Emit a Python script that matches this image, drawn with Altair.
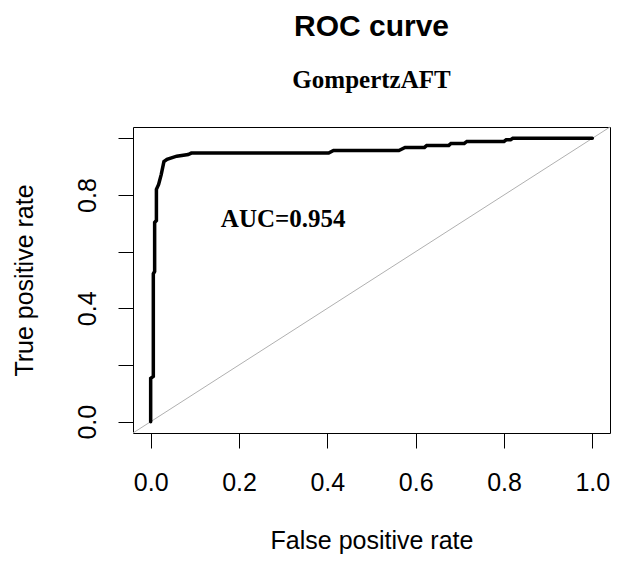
import altair as alt
import pandas as pd

# ROC curve points
fpr = [0.0, 0.0, 0.006, 0.006, 0.009, 0.009, 0.013, 0.013, 0.018, 0.024, 0.030,
       0.037, 0.059, 0.085, 0.092, 0.403, 0.414, 0.562, 0.576, 0.620, 0.625,
       0.675, 0.680, 0.710, 0.716, 0.800, 0.805, 0.815, 0.820, 1.0]
tpr = [0.0, 0.153, 0.160, 0.522, 0.530, 0.703, 0.710, 0.820, 0.837, 0.873, 0.918,
       0.926, 0.937, 0.943, 0.948, 0.948, 0.957, 0.957, 0.968, 0.968, 0.975,
       0.975, 0.982, 0.982, 0.989, 0.989, 0.995, 0.995, 1.0, 1.0]

# reference diagonal (abline 0,1) across the plot region
diag = [-0.04, 1.04]

# annotation
auc_x = [0.3]
auc_y = [0.7]
auc_label = ["AUC=0.954"]

x_ticks = [0.0, 0.2, 0.4, 0.6, 0.8, 1.0]
y_ticks = [0.0, 0.2, 0.4, 0.6, 0.8, 1.0]

curve_df = pd.DataFrame({"fpr": fpr, "tpr": tpr, "order": list(range(len(fpr)))})
diag_df = pd.DataFrame({"fpr": diag, "tpr": diag})
auc_df = pd.DataFrame({"fpr": auc_x, "tpr": auc_y, "label": auc_label})

SANS = "Liberation Sans"
SERIF = "Liberation Serif"

VIEW_W = 477
VIEW_H = 306

x_scale = alt.Scale(domain=[-0.04, 1.04], nice=False, zero=False)
y_scale = alt.Scale(domain=[-0.04, 1.04], nice=False, zero=False)

x_axis = alt.Axis(
    values=x_ticks, format=".1f", title="False positive rate",
    domain=False, grid=False, tickSize=15, tickColor="black", tickWidth=1,
    labelFont=SANS, labelFontSize=25, labelColor="black", labelPadding=42,
    labelBaseline="alphabetic", labelFlush=False, labelOverlap=False,
    titleFont=SANS, titleFontSize=25, titleFontWeight="normal", titleColor="black",
    titleBaseline="alphabetic", titleY=115, titleX=VIEW_W / 2, titleAlign="center",
)
y_axis = alt.Axis(
    values=y_ticks, title="True positive rate",
    labelExpr="(datum.index == 0 || abs(datum.value - 0.4) < 0.001 || abs(datum.value - 0.8) < 0.001) ? format(datum.value, '.1f') : ''",
    domain=False, grid=False, tickSize=15, tickColor="black", tickWidth=1,
    labelFont=SANS, labelFontSize=25, labelColor="black", labelPadding=23,
    labelAngle=270, labelAlign="center", labelBaseline="alphabetic",
    labelFlush=False, labelOverlap=False,
    titleFont=SANS, titleFontSize=25, titleFontWeight="normal", titleColor="black",
    titleAngle=270, titleAlign="center", titleBaseline="alphabetic",
    titleX=-101, titleY=VIEW_H / 2,
)

x_enc = alt.X("fpr:Q", scale=x_scale, axis=x_axis)
y_enc = alt.Y("tpr:Q", scale=y_scale, axis=y_axis)

diag_layer = alt.Chart(diag_df).mark_line(color="#b0b0b0", strokeWidth=1).encode(
    x=x_enc, y=y_enc
)
curve_layer = alt.Chart(curve_df).mark_line(
    color="black", strokeWidth=3.5, strokeJoin="miter", strokeCap="round"
).encode(x=x_enc, y=y_enc, order="order:Q")
auc_layer = alt.Chart(auc_df).mark_text(
    font=SERIF, fontSize=25, fontWeight="bold", color="black",
    align="center", baseline="middle", dy=-4,
).encode(x=x_enc, y=y_enc, text="label:N")

chart = alt.layer(diag_layer, curve_layer, auc_layer).properties(
    width=VIEW_W,
    height=VIEW_H,
    title=alt.TitleParams(
        text="ROC curve", subtitle="GompertzAFT",
        font=SANS, fontSize=30, fontWeight="bold", color="black",
        subtitleFont=SERIF, subtitleFontSize=25, subtitleFontWeight="bold",
        subtitleColor="black", anchor="middle", offset=32, subtitlePadding=26,
    ),
    autosize=alt.AutoSizeParams(type="none"),
    padding={"left": 125, "top": 119, "right": 1, "bottom": 121},
).configure(background="white").configure_view(stroke="black", strokeWidth=1)

chart.save("out.html", embed_options={"renderer": "svg", "actions": False})
